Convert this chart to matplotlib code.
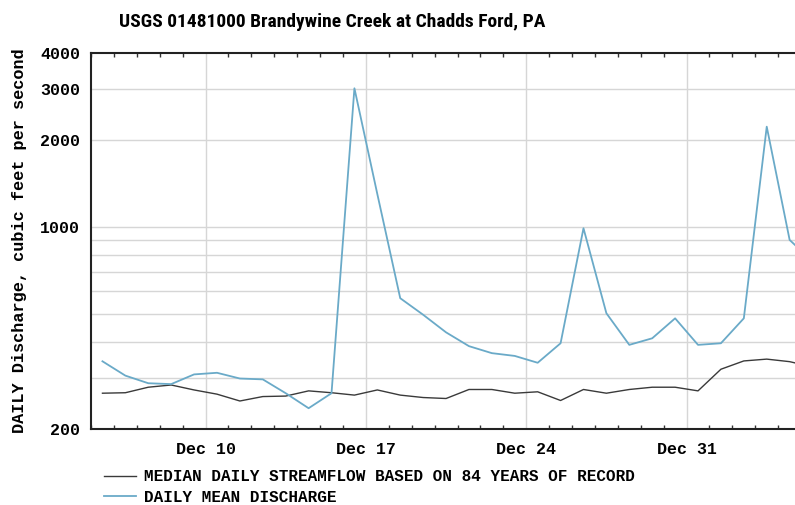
import datetime as dt
import matplotlib
matplotlib.use("Agg")
import matplotlib.pyplot as plt
import matplotlib.dates as mdates
from matplotlib.ticker import FixedLocator, FixedFormatter, NullFormatter
from matplotlib import font_manager

# daily values, Dec 5 .. Jan 5 (plotted at noon)
start_day = dt.datetime(2018, 12, 5, 12)
median_flow = [266, 267, 279, 284, 273, 264, 250, 259, 260, 271, 267, 262, 273, 262, 257, 255,
               274, 274, 266, 269, 251, 274, 266, 274, 279, 279, 271, 322, 344, 349, 342, 328]
daily_mean = [343, 306, 288, 286, 309, 313, 299, 297, 266, 236, 266, 3020, 1300, 567, 497, 432,
              387, 366, 358, 339, 396, 990, 503, 391, 412, 483, 391, 396, 483, 2224, 902, 760]
days = [start_day + dt.timedelta(days=i) for i in range(len(median_flow))]

y_major = [200, 1000, 2000, 3000, 4000]
y_grid = [300, 400, 500, 600, 700, 800, 900, 1000, 2000, 3000]

mono = "Liberation Mono"

# pick a narrow sans for the title if one is installed
names = {f.name for f in font_manager.fontManager.ttflist}
title_family = "Liberation Sans"
for cand in ["Liberation Sans Narrow", "Roboto Condensed", "Open Sans Condensed", "DejaVu Sans Condensed"]:
    if cand in names:
        title_family = cand
        break

fig = plt.figure(figsize=(7.95, 5.05), dpi=100)
# axes run past the right edge of the picture, like the cropped original
ax = fig.add_axes([91 / 795, 76 / 505, 733 / 795, 376 / 505])

ax.plot(days, median_flow, color="#3a3a3a", lw=1.0, label="MEDIAN DAILY STREAMFLOW BASED ON 84 YEARS OF RECORD")
ax.plot(days, daily_mean, color="#6aaac8", lw=1.3, label="DAILY MEAN DISCHARGE")

ax.set_yscale("log")
ax.set_ylim(200, 4000)
ax.set_xlim(dt.datetime(2018, 12, 5), dt.datetime(2019, 1, 6))

ax.yaxis.set_major_locator(FixedLocator(y_major))
ax.yaxis.set_major_formatter(FixedFormatter([str(v) for v in y_major]))
ax.yaxis.set_minor_locator(FixedLocator([]))
ax.yaxis.set_minor_formatter(NullFormatter())
for v in y_grid:
    ax.axhline(v, color="#d6d6d6", lw=1.0, zorder=0)

ax.xaxis.set_major_locator(mdates.DayLocator(bymonthday=[10, 17, 24, 31]))
ax.xaxis.set_major_formatter(mdates.DateFormatter("%b %d"))
ax.xaxis.set_minor_locator(mdates.DayLocator())
ax.grid(axis="x", which="major", color="#d6d6d6", lw=1.0, zorder=0)

ax.tick_params(axis="y", length=0, pad=8)
ax.tick_params(axis="x", which="major", length=0, pad=9)
ax.tick_params(axis="x", which="minor", direction="in", length=3, width=1, top=True, bottom=True, color="#333333")
for lab in ax.get_xticklabels() + ax.get_yticklabels():
    lab.set_fontfamily(mono)
    lab.set_fontweight("bold")
    lab.set_fontsize(12)

for s in ["left", "bottom", "top"]:
    ax.spines[s].set_linewidth(1.5)
    ax.spines[s].set_color("#222222")
ax.spines["right"].set_visible(False)

ax.set_ylabel("DAILY Discharge, cubic feet per second", fontfamily=mono, fontweight="bold", fontsize=12.2, labelpad=9)

fig.text(332 / 795, 1 - 22 / 505, "USGS 01481000 Brandywine Creek at Chadds Ford, PA",
         ha="center", va="center", fontsize=14 if title_family != "Liberation Sans" else 13.5,
         fontweight="bold", family=title_family)

fig.legend(loc="upper left", bbox_to_anchor=(98 / 795, 1 - 463 / 505), frameon=False,
           prop={"family": mono, "weight": "bold", "size": 11.5},
           handlelength=2.0, handletextpad=0.5, labelspacing=0.35, borderaxespad=0)

fig.savefig("out.png", dpi=100)
